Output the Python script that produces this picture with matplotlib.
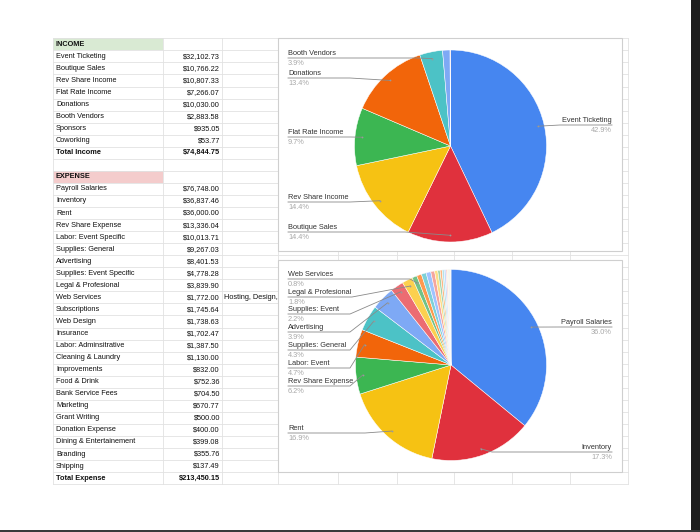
import matplotlib
matplotlib.use("Agg")
import matplotlib.pyplot as plt
from matplotlib.patches import Rectangle
import numpy as np

plt.rcParams["font.family"] = ["Liberation Sans", "DejaVu Sans"]

# ---- sheet data ----
income_labels = ["Event Ticketing", "Boutique Sales", "Rev Share Income", "Flat Rate Income",
                 "Donations", "Booth Vendors", "Sponsors", "Coworking"]
income_values = [32102.73, 10766.22, 10807.33, 7266.07, 10030.00, 2883.58, 935.05, 53.77]

expense_labels = ["Payroll Salaries", "Inventory", "Rent", "Rev Share Expense", "Labor: Event Specific",
                  "Supplies: General", "Advertising", "Supplies: Event Specific", "Legal & Profesional",
                  "Web Services", "Subscriptions", "Web Design", "Insurance", "Labor: Adminsitrative",
                  "Cleaning & Laundry", "Improvements", "Food & Drink", "Bank Service Fees", "Marketing",
                  "Grant Writing", "Donation Expense", "Dining & Entertainement", "Branding", "Shipping"]
expense_values = [76748.00, 36837.46, 36000.00, 13336.04, 10013.71, 9267.03, 8401.53, 4778.28, 3839.90,
                  1772.00, 1745.64, 1738.63, 1702.47, 1387.50, 1130.00, 832.00, 752.36, 704.50, 670.77,
                  500.00, 400.00, 399.08, 355.76, 137.49]
expense_notes = {"Web Services": "Hosting, Design,"}

# slice labels shown on the charts (index, text, side, line y, elbow x)
income_chart_labels = [
    (0, "Event Ticketing", "right", 125, 560),
    (1, "Boutique Sales", "left", 232, 405),
    (2, "Rev Share Income", "left", 202, 350),
    (3, "Flat Rate Income", "left", 137, 350),
    (4, "Donations", "left", 78, 350),
    (5, "Booth Vendors", "left", 58, 417),
]
expense_chart_labels = [
    (0, "Payroll Salaries", "right", 327, 560),
    (1, "Inventory", "right", 452, 492),
    (2, "Rent", "left", 433, 365),
    (3, "Rev Share Expense", "left", 386, 350),
    (4, "Labor: Event", "left", 368, 350),
    (5, "Supplies: General", "left", 350, 350),
    (6, "Advertising", "left", 332, 350),
    (7, "Supplies: Event", "left", 314, 350),
    (8, "Legal & Profesional", "left", 297, 352),
    (9, "Web Services", "left", 279, 410),
]

palette = ["#4686F0", "#E0313D", "#F6C213", "#3CB652", "#F2650A", "#4CC2C6", "#7EA9F5", "#EC6C72",
           "#FCD04F", "#71C287", "#FF994D", "#7ED1D7", "#A0C3FF", "#F5A59F", "#FDDE88", "#A0D4AC",
           "#FFB782", "#B5E3E7", "#C6DAFC", "#F9CAC6", "#FEEBC3", "#CAE7D0", "#FFD3B4", "#DAF1F3"]

W, H = 700, 532
ROW0 = 38.3   # top of first row
ROWH = 12.05
FS = 5.3
GRID = "#e2e2e2"

fig = plt.figure(figsize=(W / 100, H / 100), dpi=100)
bg = fig.add_axes([0, 0, 1, 1])
bg.set_xlim(0, W)
bg.set_ylim(H, 0)
bg.axis("off")

# ---- spreadsheet grid ----
n_rows = 1 + len(income_labels) + 1 + 1 + 1 + len(expense_labels) + 1
grid_bottom = ROW0 + n_rows * ROWH
for i in range(n_rows + 1):
    y = ROW0 + i * ROWH
    bg.plot([53, 628], [y, y], color=GRID, lw=0.6, zorder=1)
for x in [53, 163, 222, 278, 338, 397, 454, 512, 570, 628]:
    bg.plot([x, x], [ROW0, grid_bottom], color=GRID, lw=0.6, zorder=1)


def row_y(i):
    return ROW0 + (i + 0.5) * ROWH


def write_row(i, label, value=None, bold=False, fill=None, note=None):
    y = row_y(i)
    if fill:
        bg.add_patch(Rectangle((53, ROW0 + i * ROWH), 110, ROWH, facecolor=fill, edgecolor="none", zorder=0.5))
    w = "bold" if bold else "normal"
    bg.text(56, y, label, fontsize=FS, fontweight=w, va="center", ha="left", color="#111111", zorder=2)
    if value is not None:
        bg.text(220, y, "${:,.2f}".format(value), fontsize=FS, fontweight=w, va="center", ha="right",
                color="#111111", zorder=2)
    if note:
        bg.text(224, y, note, fontsize=FS, va="center", ha="left", color="#111111", zorder=2)


r = 0
write_row(r, "INCOME", bold=True, fill="#d9ead3")
for lab, val in zip(income_labels, income_values):
    r += 1
    write_row(r, lab, val)
r += 1
write_row(r, "Total Income", sum(income_values), bold=True)
r += 2
write_row(r, "EXPENSE", bold=True, fill="#f4cccc")
for lab, val in zip(expense_labels, expense_values):
    r += 1
    write_row(r, lab, val, note=expense_notes.get(lab))
r += 1
write_row(r, "Total Expense", sum(expense_values), bold=True)

# chart cards
for (x0, y0, x1, y1) in [(277.5, 38, 622, 251), (277.5, 260, 622, 472)]:
    bg.add_patch(Rectangle((x0, y0), x1 - x0, y1 - y0, facecolor="white", edgecolor="#cfcfcf",
                           lw=0.8, zorder=3))

# screen edge
bg.add_patch(Rectangle((691, 0), 9, H, facecolor="#1e1e1e", edgecolor="none", zorder=5))
bg.add_patch(Rectangle((0, 530), W, 2, facecolor="#3a3a3a", edgecolor="none", zorder=5))

overlay = None


def draw_pie(values, cx, cy, rad, chart_labels):
    ax = fig.add_axes([(cx - rad) / W, 1 - (cy + rad) / H, 2 * rad / W, 2 * rad / H])
    ax.pie(values, colors=palette[:len(values)], startangle=90, counterclock=False,
           wedgeprops=dict(edgecolor="white", linewidth=0.35))
    ax.set_xlim(-1, 1)
    ax.set_ylim(-1, 1)
    ax.axis("off")
    total = float(np.sum(values))
    cum = np.cumsum(values) - np.array(values) / 2
    for idx, text, side, ly, ex in chart_labels:
        theta = cum[idx] / total * 2 * np.pi
        px, py = ax.transData.transform((0.93 * np.sin(theta), 0.93 * np.cos(theta)))
        dx, dy = overlay.transData.inverted().transform((px, py))
        pct = "{:.1f}%".format(values[idx] / total * 100)
        if side == "left":
            tx, ha = 288, "left"
            xs = [tx, ex, dx]
        else:
            tx, ha = 612, "right"
            xs = [tx, ex, dx]
        overlay.plot(xs, [ly, ly, dy], color="#8a8a8a", lw=0.6, solid_joinstyle="round")
        overlay.plot([dx], [dy], "o", color="#9a9a9a", ms=1.3, mew=0)
        overlay.text(tx, ly - 4.3, text, fontsize=FS, ha=ha, va="center", color="#333333")
        overlay.text(tx, ly + 5.3, pct, fontsize=FS, ha=ha, va="center", color="#a8a8a8")
    return ax


overlay = fig.add_axes([0, 0, 1, 1])
overlay.set_xlim(0, W)
overlay.set_ylim(H, 0)
overlay.axis("off")
overlay.set_zorder(10)
overlay.patch.set_alpha(0)

draw_pie(income_values, 450.5, 146, 96, income_chart_labels)
draw_pie(expense_values, 451, 365, 95.5, expense_chart_labels)

fig.savefig("out.png", dpi=100)
